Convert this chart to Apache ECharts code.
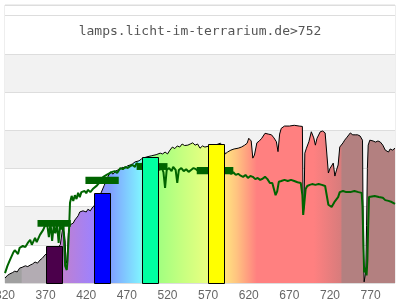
<!DOCTYPE html>
<html>
<head>
<meta charset="utf-8">
<script src="https://cdn.jsdelivr.net/npm/echarts@6/dist/echarts.min.js"></script>
<style>html,body{margin:0;padding:0;background:#fff}#c{width:400px;height:300px}</style>
</head>
<body>
<div id="c"></div>
<script>
// ---- data ----
const titleText = 'lamps.licht-im-terrarium.de>752';
const xTickStart = 320, xTickEnd = 800, xTickStep = 50;

// lamp spectrum (black line) [wavelength nm, value]
const lampSpectrum = [[320,13],[323,20],[326,24],[329,27],[332,31],[335,29],[338,39],[341,41],[345,45],[348,43],[351,47],[354,50],[357,55],[360,52],[363,60],[366,65],[369,73],[372,78],[376,82],[380,86],[384,90],[388,100],[391,144],[393,130],[394,110],[395,60],[396,52],[397,85],[398,130],[400,152],[402,150],[404,157],[406,165],[408,168],[410,176],[412,186],[414,183],[416,189],[418,191],[420,186],[422,193],[425,189],[428,199],[431,205],[436,225],[442,255],[447,280],[450,291],[453,285],[456,293],[459,296],[462,299],[465,303],[468,301],[471,307],[474,309],[477,312],[480,317],[482,322],[485,320],[488,325],[494,330],[500,333],[506,336],[508,335],[511,340],[514,338],[517,343],[520,338],[523,348],[526,356],[529,352],[532,359],[535,356],[538,364],[541,360],[545,361],[548,364],[551,367],[554,361],[557,364],[560,353],[563,359],[566,356],[570,358],[575,358],[580,362],[585,366],[588,360],[591,338],[594,343],[598,348],[602,351],[607,353],[611,356],[615,361],[618,366],[620,379],[623,372],[625,327],[627,335],[630,367],[633,372],[636,379],[640,392],[644,390],[648,388],[651,380],[654,370],[656,344],[658,390],[660,405],[664,411],[670,411],[676,413],[682,411],[686,410],[687,183],[688,200],[689,340],[691,353],[694,370],[697,396],[700,380],[702,361],[704,379],[708,396],[711,398],[714,393],[716,388],[718,288],[720,300],[722,296],[724,314],[726,280],[728,296],[730,309],[732,356],[736,367],[738,374],[741,382],[745,393],[748,388],[751,388],[754,388],[757,385],[760,374],[761,100],[762,3],[764,30],[765,150],[766,300],[767,361],[769,374],[773,372],[776,369],[779,372],[782,369],[785,361],[788,348],[790,353],[792,343],[794,351],[797,348],[800,353]];

// reference spectrum (dark green line) [wavelength nm, value]
const refSpectrum = [[320,26],[323,45],[326,60],[330,79],[332,86],[336,76],[338,92],[342,97],[345,94],[348,105],[351,113],[353,100],[357,118],[359,107],[363,126],[367,139],[369,149],[372,152],[374,120],[376,157],[378,110],[380,150],[382,130],[384,157],[386,105],[388,152],[390,140],[392,152],[394,45],[396,34],[397,60],[399,150],[400,210],[402,228],[404,215],[406,230],[408,220],[410,236],[412,225],[414,238],[416,233],[418,241],[420,235],[422,244],[425,238],[428,246],[433,255],[437,265],[441,278],[445,283],[449,288],[452,291],[455,293],[458,288],[462,301],[465,298],[468,304],[471,301],[474,306],[477,309],[480,304],[482,314],[485,309],[488,312],[495,310],[502,308],[507,306],[510,296],[513,301],[515,290],[517,249],[519,296],[522,301],[525,293],[527,304],[530,296],[532,262],[534,296],[537,301],[540,293],[543,298],[546,291],[549,296],[552,301],[555,298],[558,293],[561,296],[565,291],[568,288],[575,290],[585,289],[592,288],[595,291],[598,286],[601,290],[604,283],[607,286],[610,281],[613,278],[616,283],[619,275],[622,280],[625,278],[628,272],[631,275],[634,270],[637,273],[640,278],[643,272],[646,262],[649,262],[651,262],[653,230],[655,240],[657,265],[660,267],[664,270],[668,267],[672,270],[676,267],[680,264],[684,262],[686,230],[687,178],[688,200],[690,246],[692,254],[695,257],[698,259],[702,257],[706,259],[710,257],[714,254],[716,251],[718,205],[720,209],[722,199],[724,204],[726,214],[728,217],[730,225],[732,238],[736,241],[740,238],[745,238],[750,241],[755,238],[759,236],[760,200],[762,28],[764,40],[765,20],[766,60],[767,150],[768,225],[770,230],[775,228],[780,225],[785,223],[788,217],[792,215],[796,212],[800,207]];

// LED bars: [from nm, to nm, value]
const ledBars = [[370,390,97],[430,450,235],[488,508,329],[570,590,363]];
// green level blocks: [from nm, to nm, low, high]
const levelBlocks = [[360,401,147,165],[419,460,259,278],[482,520,296,314],[556,601,285,304]];

// ---- styles ----
const barColors = ['#4b004b','#0000ff','#00ffa0','#ffff00'];
const gradientStops = [
  [320,'#a0a0a0'],[340,'#a0a0a0'],[341,'#b3acb3'],[370,'#b3acb3'],[371,'#bc86cf'],[390,'#c080d0'],
  [430,'#9c82ff'],[450,'#80a0ff'],[486,'#80f0ff'],[490,'#90ffc0'],[508,'#a0ff80'],
  [540,'#c8ff80'],[568,'#e8ff80'],[590,'#ffe480'],[605,'#ffc480'],[618,'#ffa080'],[630,'#ff8080'],
  [700,'#ff8080'],[733,'#d87c7c'],[735,'#b38080'],[800,'#b38080']
];
const xMin = 320, xMax = 800;

const chart = echarts.init(document.getElementById('c'), null, {renderer:'canvas'});
const grad = new echarts.graphic.LinearGradient(0,0,1,0,
  gradientStops.map(s => ({offset:(s[0]-xMin)/(xMax-xMin), color:s[1]})));

chart.setOption({
  animation:false,
  title:{text:titleText, left:'center', top:25, padding:0,
    textStyle:{fontFamily:'DejaVu Sans Mono', fontSize:13, fontWeight:'normal', color:'#555'}},
  grid:{left:5, right:5, top:5, bottom:17, containLabel:false, outerBoundsMode:'none',
    show:true, borderColor:'#dddddd', borderWidth:1, backgroundColor:'transparent'},
  xAxis:{type:'value', min:xTickStart, max:xTickEnd, interval:xTickStep,
    axisLine:{show:false}, axisTick:{show:false}, splitLine:{show:false},
    axisLabel:{showMaxLabel:false, color:'#666', fontSize:12, fontFamily:'Liberation Sans', margin:7}},
  yAxis:{type:'value', min:0, max:728, interval:100,
    axisLine:{show:false}, axisTick:{show:false}, axisLabel:{show:false},
    splitLine:{show:true, lineStyle:{color:'#dddddd', width:1}},
    splitArea:{show:true, areaStyle:{color:['#ffffff','#f2f2f2','#ffffff','#f2f2f2','#ffffff','#f2f2f2','#ffffff','#ffffff']}}},
  series:[
    {type:'line', data:lampSpectrum, symbol:'none', z:2,
      lineStyle:{color:'#000', width:1}, areaStyle:{color:grad, opacity:1}},
    {type:'custom', data:levelBlocks, z:3, encode:{x:[0,1], y:[2,3]},
      renderItem:(p, api) => {
        const a = api.coord([api.value(0), api.value(3)]);
        const b = api.coord([api.value(1), api.value(2)]);
        return {type:'rect', shape:{x:a[0], y:a[1], width:b[0]-a[0], height:b[1]-a[1]}, style:{fill:'#006400'}};
      }},
    {type:'line', data:refSpectrum, symbol:'none', z:4,
      lineStyle:{color:'#006400', width:2}},
    {type:'custom', data:ledBars, z:5, encode:{x:[0,1], y:2},
      renderItem:(p, api) => {
        const a = api.coord([api.value(0), api.value(2)]);
        const b = api.coord([api.value(1), 0]);
        return {type:'rect', shape:{x:Math.round(a[0])+0.5, y:Math.round(a[1])+0.5, width:Math.round(b[0]-a[0]), height:Math.round(b[1]-a[1])},
          style:{fill:barColors[p.dataIndex], stroke:'#000', lineWidth:1}};
      }}
  ]
});
</script>
</body>
</html>
